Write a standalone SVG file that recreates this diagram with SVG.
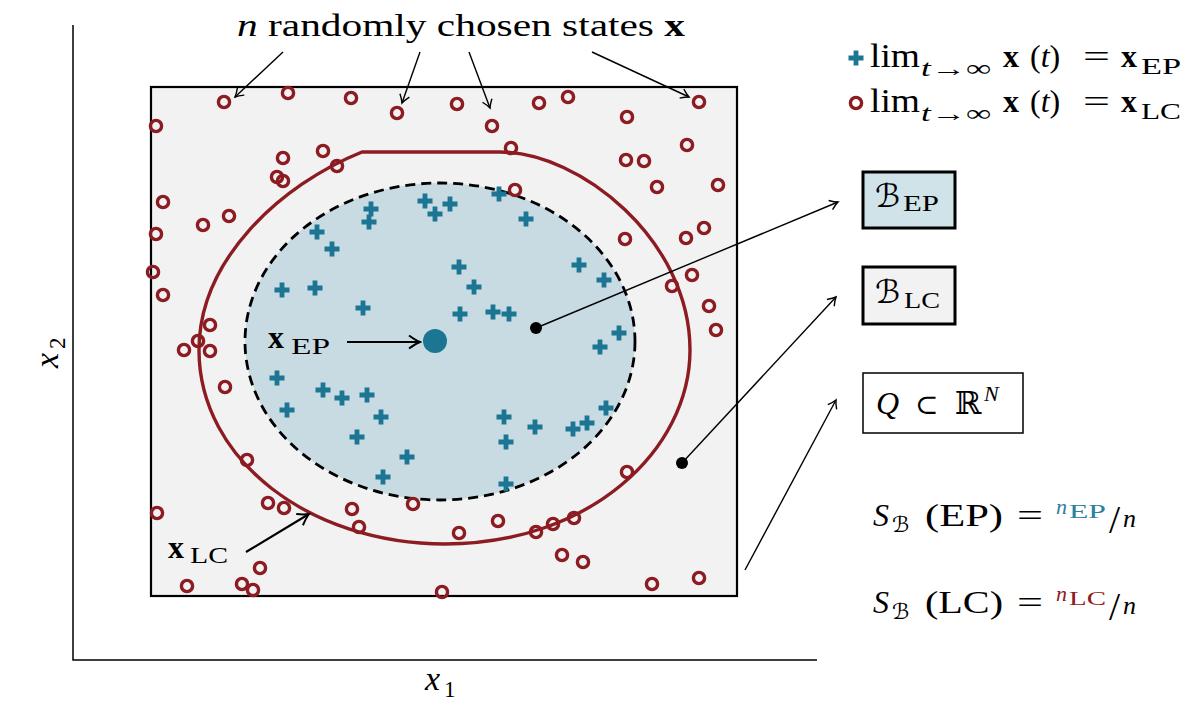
<svg xmlns="http://www.w3.org/2000/svg" width="1200" height="702" viewBox="0 0 1200 702">
<style>
text{font-family:"Liberation Serif","DejaVu Serif","DejaVu Sans",serif;fill:#000}
.it{font-style:italic}
.bf{font-weight:bold}
.lc{fill:none;stroke:#8c1c22;stroke-width:3.4}
.conn{fill:none;stroke:#000;stroke-width:1.4}
.conn2{fill:none;stroke:#000;stroke-width:2.2}
</style>
<defs>
<marker id="ah" viewBox="-10 -6 12 12" refX="0" refY="0" markerWidth="12" markerHeight="12" markerUnits="userSpaceOnUse" orient="auto">
<path d="M-8,-5 Q-3,-1.2 0,0 Q-3,1.2 -8,5" fill="none" stroke="#000" stroke-width="1.4"/>
</marker>
<marker id="ah2" viewBox="-14 -8 16 16" refX="0" refY="0" markerWidth="16" markerHeight="16" markerUnits="userSpaceOnUse" orient="auto">
<path d="M-11,-6.5 Q-4,-1.5 0,0 Q-4,1.5 -11,6.5" fill="none" stroke="#000" stroke-width="2"/>
</marker>
<path id="ep" d="M-7.5,0H7.5M0,-7.5V7.5" stroke="#1b7593" stroke-width="4.8"/>
<circle id="lcm" r="5.6" class="lc"/>
</defs>

<g id="axes">
<path d="M73,25V660H817" fill="none" stroke="#000" stroke-width="1.5"/>
<text x="425" y="690" font-size="34" class="it">x</text><text x="444" y="697" font-size="23">1</text>
<g transform="translate(58,368) rotate(-90)"><text x="0" y="0" font-size="34" class="it">x</text><text x="19" y="7" font-size="23">2</text></g>
</g>

<g id="state-space">
<rect x="151" y="87" width="586" height="509" fill="#f2f2f2" stroke="#000" stroke-width="2.2"/>
</g>

<g id="basin-ep">
<ellipse cx="440" cy="341.5" rx="195" ry="158.5" fill="#c9dbe2" stroke="#000" stroke-width="2.8" stroke-dasharray="10 6"/>
</g>

<g id="limit-cycle">
<path class="lc" d="M362,152 L500,152 C580,152 690,240 690,350 C690,450 590,544 445,544 C310,544 199,460 199,350 C199,260 280,185 362,152 Z"/>
</g>

<g id="ep-samples">
<use href="#ep" x="317" y="232"/><use href="#ep" x="332" y="249"/><use href="#ep" x="371" y="209"/><use href="#ep" x="369" y="222"/>
<use href="#ep" x="425" y="201"/><use href="#ep" x="435" y="214"/><use href="#ep" x="450" y="204"/><use href="#ep" x="499" y="194"/>
<use href="#ep" x="526" y="219"/><use href="#ep" x="282" y="290"/><use href="#ep" x="315" y="288"/><use href="#ep" x="363" y="308"/>
<use href="#ep" x="459" y="267"/><use href="#ep" x="474" y="287"/><use href="#ep" x="460" y="314"/><use href="#ep" x="493" y="312"/>
<use href="#ep" x="509" y="314"/><use href="#ep" x="579" y="265"/><use href="#ep" x="604" y="280"/><use href="#ep" x="619" y="333"/>
<use href="#ep" x="600" y="347"/><use href="#ep" x="277" y="378"/><use href="#ep" x="287" y="410"/><use href="#ep" x="323" y="390"/>
<use href="#ep" x="342" y="398"/><use href="#ep" x="367" y="395"/><use href="#ep" x="381" y="417"/><use href="#ep" x="357" y="437"/>
<use href="#ep" x="407" y="457"/><use href="#ep" x="383" y="477"/><use href="#ep" x="504" y="417"/><use href="#ep" x="535" y="427"/>
<use href="#ep" x="506" y="442"/><use href="#ep" x="573" y="429"/><use href="#ep" x="587" y="423"/><use href="#ep" x="606" y="408"/>
<use href="#ep" x="506" y="484"/>
</g>

<g id="lc-samples">
<use href="#lcm" x="224" y="102"/><use href="#lcm" x="288" y="93"/><use href="#lcm" x="351" y="98"/><use href="#lcm" x="397" y="113"/>
<use href="#lcm" x="457" y="104"/><use href="#lcm" x="492" y="126"/><use href="#lcm" x="539" y="103"/><use href="#lcm" x="568" y="97"/>
<use href="#lcm" x="627" y="117"/><use href="#lcm" x="699" y="102"/><use href="#lcm" x="156" y="126"/><use href="#lcm" x="283" y="158"/>
<use href="#lcm" x="323" y="151"/><use href="#lcm" x="337" y="166"/><use href="#lcm" x="277" y="177"/><use href="#lcm" x="283" y="181"/>
<use href="#lcm" x="163" y="202"/><use href="#lcm" x="229" y="216"/><use href="#lcm" x="203" y="225"/><use href="#lcm" x="156" y="234"/>
<use href="#lcm" x="153" y="272"/><use href="#lcm" x="511" y="148"/><use href="#lcm" x="626" y="160"/><use href="#lcm" x="644" y="161"/>
<use href="#lcm" x="687" y="145"/><use href="#lcm" x="657" y="187"/><use href="#lcm" x="718" y="185"/><use href="#lcm" x="515" y="190"/>
<use href="#lcm" x="625" y="239"/><use href="#lcm" x="686" y="238"/><use href="#lcm" x="704" y="228"/><use href="#lcm" x="692" y="275"/>
<use href="#lcm" x="672" y="286"/><use href="#lcm" x="709" y="306"/><use href="#lcm" x="716" y="330"/><use href="#lcm" x="627" y="472"/>
<use href="#lcm" x="574" y="518"/><use href="#lcm" x="553" y="524"/><use href="#lcm" x="536" y="532"/><use href="#lcm" x="498" y="521"/>
<use href="#lcm" x="459" y="533"/><use href="#lcm" x="562" y="555"/><use href="#lcm" x="583" y="562"/><use href="#lcm" x="652" y="584"/>
<use href="#lcm" x="699" y="578"/><use href="#lcm" x="442" y="592"/><use href="#lcm" x="163" y="295"/><use href="#lcm" x="210" y="325"/>
<use href="#lcm" x="198" y="341"/><use href="#lcm" x="184" y="350"/><use href="#lcm" x="210" y="351"/><use href="#lcm" x="225" y="387"/>
<use href="#lcm" x="247" y="460"/><use href="#lcm" x="268" y="503"/><use href="#lcm" x="284" y="508"/><use href="#lcm" x="352" y="509"/>
<use href="#lcm" x="359" y="527"/><use href="#lcm" x="413" y="504"/><use href="#lcm" x="157" y="513"/><use href="#lcm" x="260" y="568"/>
<use href="#lcm" x="187" y="586"/><use href="#lcm" x="242" y="584"/><use href="#lcm" x="253" y="590"/>
</g>

<g id="x-ep">
<circle cx="435" cy="341" r="12" fill="#1b7593"/>
<text x="268" y="348" font-size="32" class="bf">x</text>
<text x="291" y="354" font-size="24" textLength="39" lengthAdjust="spacingAndGlyphs">EP</text>
</g>
<g id="x-lc">
<text x="168" y="558" font-size="32" class="bf">x</text>
<text x="190" y="563" font-size="24" textLength="38" lengthAdjust="spacingAndGlyphs">LC</text>
</g>

<g id="sample-points">
<circle cx="536" cy="328" r="6" fill="#000"/>
<circle cx="682" cy="463" r="6" fill="#000"/>
</g>

<g id="title">
<text x="237" y="36" font-size="32" textLength="448" lengthAdjust="spacingAndGlyphs"><tspan class="it">n</tspan> randomly chosen states <tspan class="bf">x</tspan></text>
</g>

<g id="connectors">
<path class="conn" d="M283,52L235,97" marker-end="url(#ah)"/>
<path class="conn" d="M420,52L402,103" marker-end="url(#ah)"/>
<path class="conn" d="M469,52L490,108" marker-end="url(#ah)"/>
<path class="conn" d="M592,52L689,97" marker-end="url(#ah)"/>
<path class="conn2" d="M347,342L420,342" marker-end="url(#ah2)"/>
<path class="conn2" d="M246,552L309,514" marker-end="url(#ah2)"/>
<path class="conn" d="M536,328L838,202" marker-end="url(#ah)"/>
<path class="conn" d="M682,463L836,297" marker-end="url(#ah)"/>
<path class="conn" d="M745,570L836,400" marker-end="url(#ah)"/>
</g>

<g id="legend">
<use href="#ep" x="856" y="58"/>
<text x="870" y="67" font-size="33" textLength="50" lengthAdjust="spacingAndGlyphs">lim</text>
<text x="921" y="76" font-size="23" textLength="70" lengthAdjust="spacingAndGlyphs"><tspan class="it">t</tspan>→∞</text>
<text x="1003" y="67" font-size="32" class="bf">x</text>
<text x="1030" y="67" font-size="32">(<tspan class="it">t</tspan>)</text>
<text x="1083" y="67" font-size="32" textLength="27" lengthAdjust="spacingAndGlyphs">=</text>
<text x="1121" y="67" font-size="32" class="bf">x</text>
<text x="1141" y="74" font-size="24" textLength="40" lengthAdjust="spacingAndGlyphs">EP</text>
<use href="#lcm" x="856" y="103"/>
<text x="870" y="112" font-size="33" textLength="50" lengthAdjust="spacingAndGlyphs">lim</text>
<text x="921" y="121" font-size="23" textLength="70" lengthAdjust="spacingAndGlyphs"><tspan class="it">t</tspan>→∞</text>
<text x="1003" y="112" font-size="32" class="bf">x</text>
<text x="1030" y="112" font-size="32">(<tspan class="it">t</tspan>)</text>
<text x="1083" y="112" font-size="32" textLength="27" lengthAdjust="spacingAndGlyphs">=</text>
<text x="1121" y="112" font-size="32" class="bf">x</text>
<text x="1141" y="119" font-size="24" textLength="40" lengthAdjust="spacingAndGlyphs">LC</text>
</g>

<g id="box-bep">
<rect x="863" y="172" width="92" height="56" fill="#d0e3e9" stroke="#000" stroke-width="3"/>
<text x="875" y="207" font-size="32" class="it">ℬ</text>
<text x="903" y="211" font-size="24" textLength="36" lengthAdjust="spacingAndGlyphs">EP</text>
</g>
<g id="box-blc">
<rect x="863" y="267" width="92" height="57" fill="#f2f2f2" stroke="#000" stroke-width="3"/>
<text x="875" y="303" font-size="32" class="it">ℬ</text>
<text x="904" y="308" font-size="24" textLength="36" lengthAdjust="spacingAndGlyphs">LC</text>
</g>
<g id="box-q">
<rect x="863" y="373" width="160" height="60" fill="#fff" stroke="#000" stroke-width="1.5"/>
<text x="876" y="414" font-size="32" class="it">Q</text>
<text x="915" y="414" font-size="28">⊂</text>
<text x="955" y="414" font-size="32">ℝ</text>
<text x="984" y="401" font-size="22" class="it">N</text>
</g>

<g id="formula-ep">
<text x="873" y="526" font-size="32" class="it">S</text>
<text x="892" y="532" font-size="22" class="it">ℬ</text>
<text x="925" y="526" font-size="32" textLength="78" lengthAdjust="spacingAndGlyphs">(EP)</text>
<text x="1017" y="526" font-size="32" textLength="26" lengthAdjust="spacingAndGlyphs">=</text>
<text x="1056" y="514" font-size="22" class="it" style="fill:#2a809d">n</text>
<text x="1069" y="518" font-size="19" textLength="37" lengthAdjust="spacingAndGlyphs" style="fill:#2a809d">EP</text>
<text x="1109" y="533" font-size="40">/</text>
<text x="1123" y="527" font-size="26" class="it">n</text>
</g>
<g id="formula-lc">
<text x="873" y="613" font-size="32" class="it">S</text>
<text x="892" y="619" font-size="22" class="it">ℬ</text>
<text x="925" y="613" font-size="32" textLength="78" lengthAdjust="spacingAndGlyphs">(LC)</text>
<text x="1017" y="613" font-size="32" textLength="26" lengthAdjust="spacingAndGlyphs">=</text>
<text x="1056" y="601" font-size="22" class="it" style="fill:#8c1c22">n</text>
<text x="1069" y="605" font-size="19" textLength="37" lengthAdjust="spacingAndGlyphs" style="fill:#8c1c22">LC</text>
<text x="1109" y="620" font-size="40">/</text>
<text x="1123" y="614" font-size="26" class="it">n</text>
</g>
</svg>
